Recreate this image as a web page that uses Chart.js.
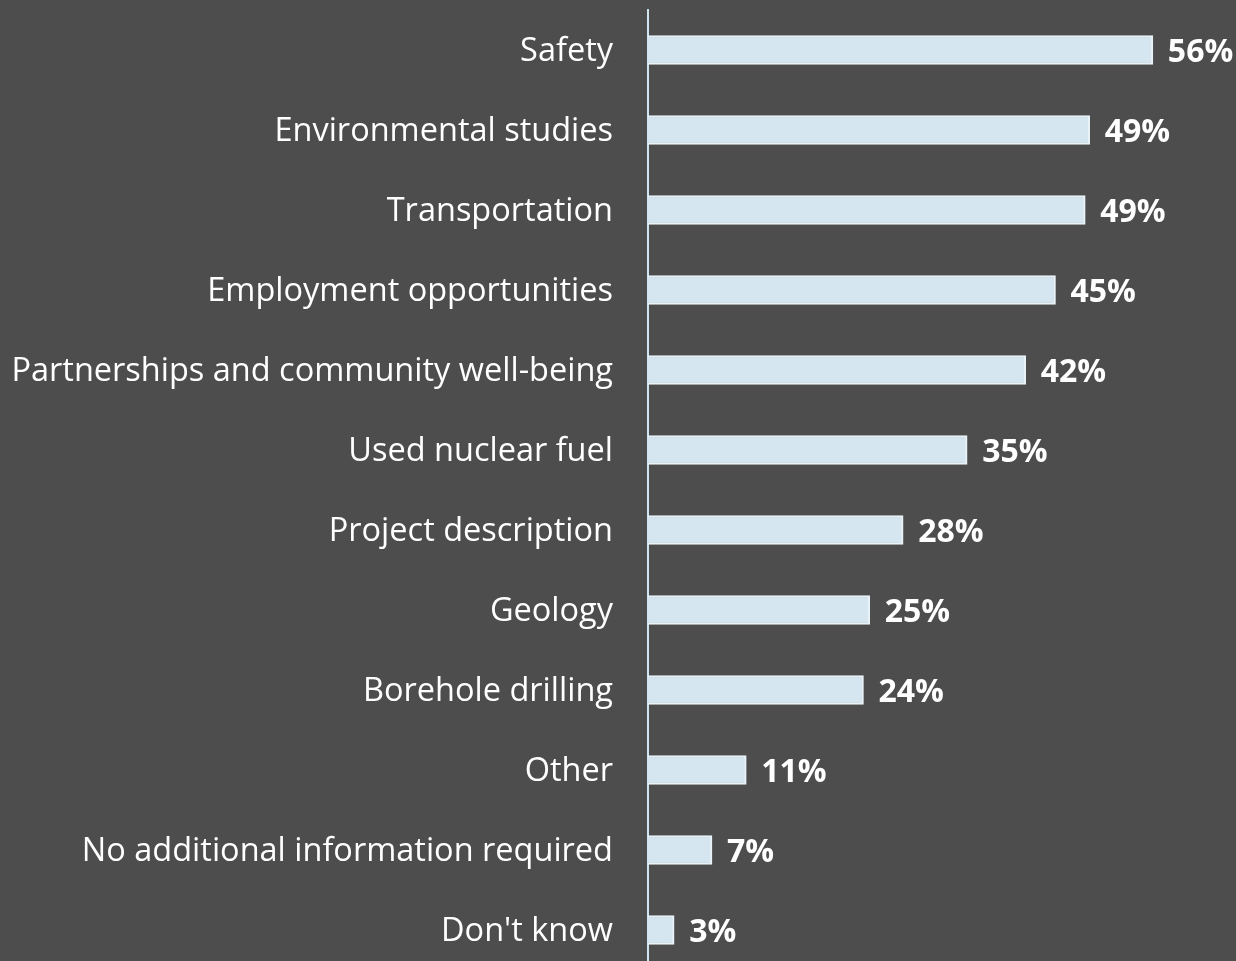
<!DOCTYPE html>
<html>
<head>
<meta charset="utf-8">
<script src="https://cdn.jsdelivr.net/npm/chart.js@4/dist/chart.umd.min.js"></script>
<style>
  html, body { margin: 0; padding: 0; background: #4d4d4d; overflow: hidden; }
  #wrap { width: 1236px; height: 970px; }
</style>
</head>
<body>
<div id="wrap"><canvas id="topicsChart"></canvas></div>
<script>
// categorias y valores
const topics = [
    'Safety', 'Environmental studies', 'Transportation', 'Employment opportunities',
    'Partnerships and community well-being', 'Used nuclear fuel', 'Project description',
    'Geology', 'Borehole drilling', 'Other', 'No additional information required', "Don't know"
];
const shares = [56, 49, 48.5, 45.2, 41.9, 35.4, 28.3, 24.6, 23.9, 10.9, 7.1, 2.9];
const shareLabels = ['56%', '49%', '49%', '45%', '42%', '35%', '28%', '25%', '24%', '11%', '7%', '3%'];

// etiquetas de valor al final de cada barra
const valueLabels = {
    id: 'valueLabels',
    afterDatasetsDraw(chart) {
        const c = chart.ctx;
        const meta = chart.getDatasetMeta(0);
        c.save();
        c.fillStyle = '#ffffff';
        c.font = 'bold 32px "Open Sans", sans-serif';
        c.textAlign = 'left';
        c.textBaseline = 'middle';
        meta.data.forEach((bar, i) => {
            c.fillText(shareLabels[i], bar.x + 15, bar.y + 3);
        });
        c.restore();
    }
};

const ctx = document.getElementById('topicsChart').getContext('2d');
const chart = new Chart(ctx, {
    type: 'bar',
    data: {
        labels: topics,
        datasets: [{
            data: shares,
            backgroundColor: '#d5e6f0',
            borderColor: '#e9f2f7',
            borderWidth: 2,
            barThickness: 29
        }]
    },
    options: {
        indexAxis: 'y',
        responsive: true,
        maintainAspectRatio: false,
        animation: false,
        layout: { padding: { top: 10, right: 2, bottom: 0, left: 0 } },
        scales: {
            x: {
                min: 0,
                max: 65,
                display: false
            },
            y: {
                grid: { display: false, drawTicks: false },
                border: { display: true, color: '#cfe4ef', width: 2 },
                ticks: {
                    color: '#ffffff',
                    padding: 35,
                    labelOffset: 2,
                    font: { family: '"Open Sans", sans-serif', size: 32.5 }
                },
                afterFit(scale) {
                    scale.width = 648;
                    scale.paddingTop = 0;
                    scale.paddingBottom = 0;
                }
            }
        },
        plugins: {
            legend: { display: false },
            tooltip: { enabled: false }
        }
    },
    plugins: [valueLabels]
});
</script>
</body>
</html>
